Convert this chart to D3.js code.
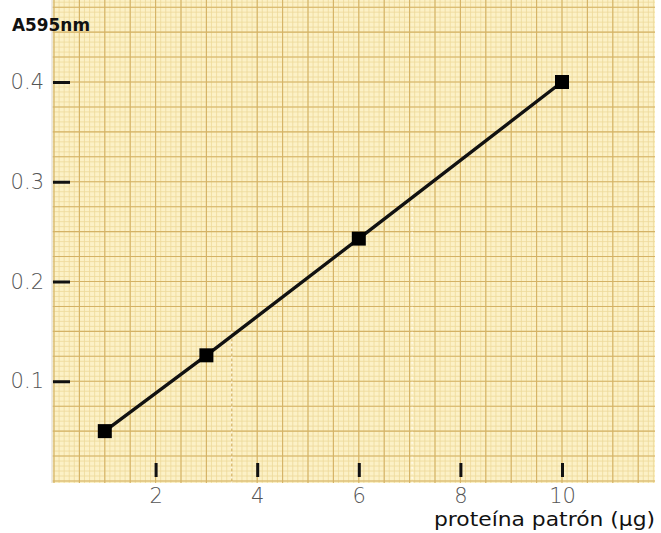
<!DOCTYPE html>
<html>
<head>
<meta charset="utf-8">
<script src="https://cdn.jsdelivr.net/npm/d3@7"></script>
<style>
  html, body { margin: 0; padding: 0; background: #fff; }
  svg { display: block; }
</style>
</head>
<body>
<svg id="chart" width="661" height="533"></svg>
<script>
// Standard curve: absorbance at 595 nm vs. amount of standard protein
const proteinUg = [1, 3, 6, 10];
const absorbance = [0.05, 0.126, 0.243, 0.4];
const xTickValues = [2, 4, 6, 8, 10];
const yTickValues = [0.1, 0.2, 0.3, 0.4];
const yAxisTitle = "A595nm";
const xAxisTitle = "proteína patrón (µg)";

const svg = d3.select("#chart");

const x = d3.scaleLinear().domain([0, 10]).range([54, 562]);
const y = d3.scaleLinear().domain([0, 0.4]).range([481, 82]);

// plot (graph paper) area
const paper = { left: 52, right: 655, top: 0, bottom: 483 };

svg.append("rect")
  .attr("x", paper.left).attr("y", paper.top)
  .attr("width", paper.right - paper.left).attr("height", paper.bottom - paper.top)
  .attr("fill", "#fcf1c6");

const grid = svg.append("g");

// minor grid: 0.1 µg and 0.005 absorbance units
const xMinor = d3.range(0, 121).map(i => i * 0.1).filter(v => x(v) > paper.left && x(v) < paper.right);
const yMinor = d3.range(-1, 100).map(i => i * 0.005).filter(v => y(v) > paper.top && y(v) < paper.bottom);

grid.selectAll(".vmin").data(xMinor).join("line")
  .attr("x1", d => x(d)).attr("x2", d => x(d))
  .attr("y1", paper.top).attr("y2", paper.bottom)
  .attr("stroke", "#eed99a").attr("stroke-width", 0.8);
grid.selectAll(".hmin").data(yMinor).join("line")
  .attr("y1", d => y(d)).attr("y2", d => y(d))
  .attr("x1", paper.left).attr("x2", paper.right)
  .attr("stroke", "#eed99a").attr("stroke-width", 0.8);

// major grid: every 0.5 µg and 0.025 absorbance units
const xMajor = d3.range(0, 25).map(i => i * 0.5).filter(v => x(v) > paper.left && x(v) < paper.right);
const yMajor = d3.range(0, 20).map(i => i * 0.025).filter(v => y(v) > paper.top && y(v) <= paper.bottom);

grid.selectAll(".vmaj").data(xMajor).join("line")
  .attr("x1", d => x(d)).attr("x2", d => x(d))
  .attr("y1", paper.top).attr("y2", paper.bottom)
  .attr("stroke", "#d4b265").attr("stroke-width", 1.1);
grid.selectAll(".hmaj").data(yMajor).join("line")
  .attr("y1", d => y(d)).attr("y2", d => y(d))
  .attr("x1", paper.left).attr("x2", paper.right)
  .attr("stroke", "#d4b265").attr("stroke-width", 1.1);

// faint dotted guide lines on the paper
grid.append("line")
  .attr("x1", x(3.5)).attr("x2", x(3.5))
  .attr("y1", y(0.15)).attr("y2", paper.bottom)
  .attr("stroke", "#fffae8").attr("stroke-width", 1.5)
  .attr("stroke-dasharray", "2,3");
grid.append("line")
  .attr("x1", x(7.05)).attr("x2", x(7.05))
  .attr("y1", y(0.29)).attr("y2", paper.bottom)
  .attr("stroke", "#fffae8").attr("stroke-width", 1.5)
  .attr("stroke-dasharray", "2,3");

// left border of paper
svg.append("line")
  .attr("x1", paper.left).attr("x2", paper.left).attr("y1", paper.top).attr("y2", paper.bottom)
  .attr("stroke", "#e8e4dc").attr("stroke-width", 1.5);

// y axis
const yAxis = d3.axisLeft(y)
  .tickValues(yTickValues)
  .tickFormat(d3.format(".1f"))
  .tickSizeInner(-17).tickSizeOuter(0).tickPadding(9);
const gy = svg.append("g").attr("transform", `translate(${paper.left + 1},0)`).call(yAxis);
gy.select(".domain").remove();
gy.selectAll(".tick line").attr("stroke", "#111").attr("stroke-width", 3);
gy.selectAll(".tick text")
  .attr("fill", "#555")
  .style("font-family", "'DejaVu Sans', Verdana, sans-serif")
  .style("font-weight", "300")
  .style("font-size", "21px");

// x axis
const xAxis = d3.axisBottom(x)
  .tickValues(xTickValues)
  .tickFormat(d3.format("d"))
  .tickSizeInner(-14).tickSizeOuter(0).tickPadding(11);
const gx = svg.append("g").attr("transform", "translate(0,477)").call(xAxis);
gx.select(".domain").remove();
gx.selectAll(".tick line").attr("stroke", "#111").attr("stroke-width", 3);
gx.selectAll(".tick text")
  .attr("fill", "#555")
  .style("font-family", "'DejaVu Sans', Verdana, sans-serif")
  .style("font-weight", "300")
  .style("font-size", "21px");

// data line
const points = proteinUg.map((p, i) => [p, absorbance[i]]);
svg.append("path")
  .datum(points)
  .attr("d", d3.line().x(d => x(d[0])).y(d => y(d[1])))
  .attr("fill", "none")
  .attr("stroke", "#111")
  .attr("stroke-width", 3.3);

// square markers
const size = 14;
svg.selectAll(".marker").data(points).join("rect")
  .attr("x", d => x(d[0]) - size / 2)
  .attr("y", d => y(d[1]) - size / 2)
  .attr("width", size).attr("height", size)
  .attr("fill", "#000");

// axis titles
svg.append("text")
  .attr("x", 12).attr("y", 31)
  .attr("textLength", 78).attr("lengthAdjust", "spacingAndGlyphs")
  .style("font-family", "'DejaVu Sans', sans-serif")
  .style("font-weight", "bold")
  .style("font-size", "17px")
  .attr("fill", "#111")
  .text(yAxisTitle);

svg.append("text")
  .attr("x", 434).attr("y", 526)
  .attr("textLength", 221).attr("lengthAdjust", "spacingAndGlyphs")
  .style("font-family", "'DejaVu Sans', sans-serif")
  .style("font-size", "19px")
  .attr("fill", "#111")
  .text(xAxisTitle);
</script>
</body>
</html>
